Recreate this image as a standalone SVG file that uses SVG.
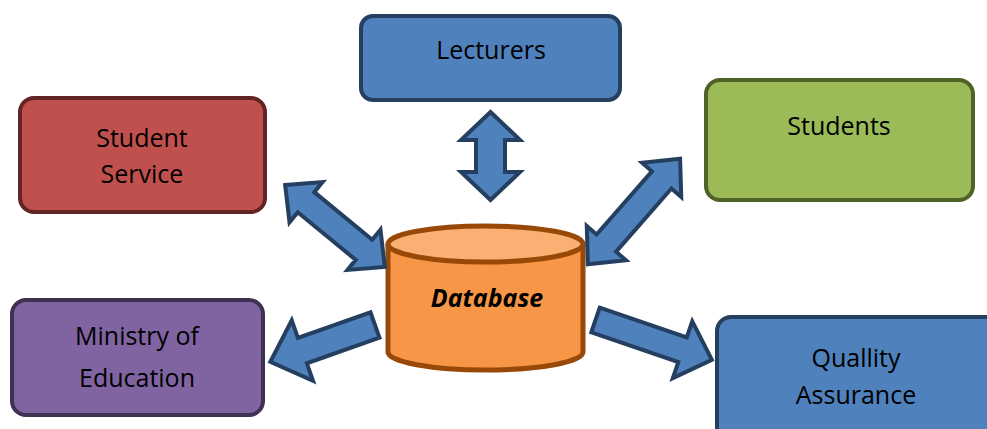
<svg xmlns="http://www.w3.org/2000/svg" width="987" height="429" viewBox="0 0 987 429">
<style>
.box{stroke-width:4}
.lbl{font-family:"Open Sans","Liberation Sans",sans-serif;font-size:25px;fill:#000;text-anchor:middle}
.arr{fill:#4F81BD;stroke:#243F60;stroke-width:4;stroke-linejoin:miter}
</style>
<rect width="987" height="429" fill="#fff"/>
<g id="lecturers">
<rect class="box" x="361" y="16" width="259" height="84" rx="12" fill="#4F81BD" stroke="#243F60"/>
<text class="lbl" x="491" y="59">Lecturers</text>
</g>
<g id="student-service">
<rect class="box" x="20" y="98" width="245" height="114" rx="14" fill="#C0504D" stroke="#632523"/>
<text class="lbl" x="142" y="147">Student</text>
<text class="lbl" x="142" y="183">Service</text>
</g>
<g id="students">
<rect class="box" x="706" y="80" width="267" height="120" rx="14" fill="#9BBB59" stroke="#4F6228"/>
<text class="lbl" x="839" y="135">Students</text>
</g>
<g id="ministry">
<rect class="box" x="12" y="300" width="251" height="115" rx="14" fill="#8064A2" stroke="#3F3151"/>
<text class="lbl" x="137" y="345">Ministry of</text>
<text class="lbl" x="137" y="387">Education</text>
</g>
<g id="quality">
<rect class="box" x="717" y="317" width="290" height="130" rx="14" fill="#4F81BD" stroke="#243F60"/>
<text class="lbl" x="856" y="367">Quallity</text>
<text class="lbl" x="856" y="404">Assurance</text>
</g>
<g id="database">
<path d="M388,244 V352 A97.5,18 0 0 0 583,352 V244" fill="#F79646" stroke="#984807" stroke-width="5"/>
<ellipse cx="485.5" cy="244" rx="97.5" ry="18" fill="#FAB073" stroke="#984807" stroke-width="5"/>
<text x="487" y="307" font-family="Open Sans,Liberation Sans,sans-serif" font-size="25" font-weight="bold" font-style="italic" text-anchor="middle" fill="#000">Database</text>
</g>
<g id="connectors">
<polygon class="arr" transform="translate(490.5,156) rotate(90)" points="-44,0 -16,-29.5 -16,-14.5 16,-14.5 16,-29.5 44,0 16,29.5 16,14.5 -16,14.5 -16,29.5"/>
<polygon class="arr" transform="translate(335,226) rotate(39.4)" points="-64.5,0 -37.5,-26 -37.5,-13 37.5,-13 37.5,-26 64.5,0 37.5,26 37.5,13 -37.5,13 -37.5,26"/>
<polygon class="arr" transform="translate(634,211.5) rotate(-48.8)" points="-70,0 -42,-26 -42,-13 42,-13 42,-26 70,0 42,26 42,13 -42,13 -42,26"/>
<polygon class="arr" transform="translate(375,325) rotate(160.6)" points="0,-13.5 77,-13.5 77,-32 111,0 77,32 77,13.5 0,13.5"/>
<polygon class="arr" transform="translate(595.5,320) rotate(18.9)" points="0,-13 92,-13 92,-30 123,0 92,30 92,13 0,13"/>
</g>
</svg>
